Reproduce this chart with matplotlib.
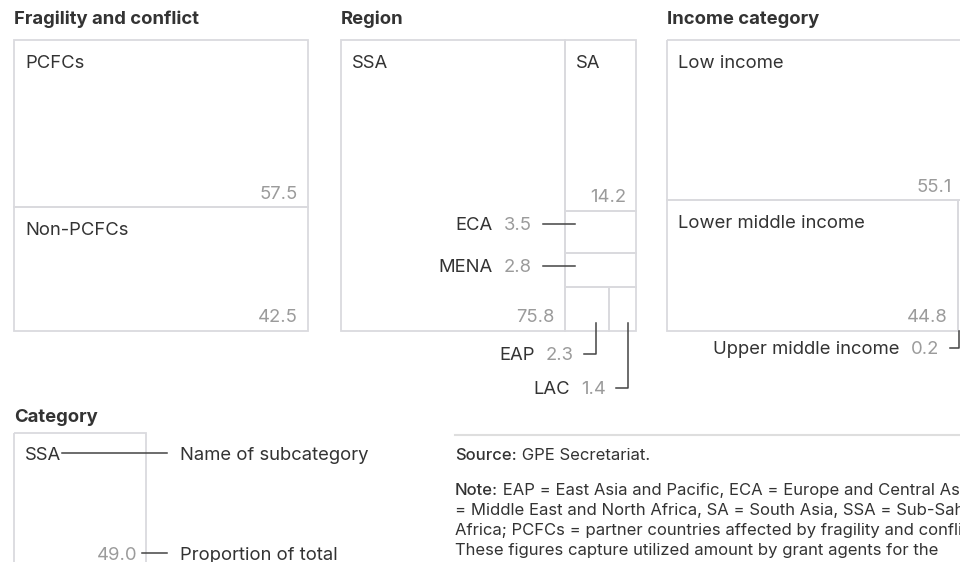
import matplotlib.pyplot as plt
from matplotlib.patches import Rectangle

plt.rcParams['font.family'] = ['Inter', 'DejaVu Sans']

# data (percent of total)
frag_names = ["PCFCs", "Non-PCFCs"]
frag_values = [57.5, 42.5]

region_names = ["SSA", "SA", "ECA", "MENA", "EAP", "LAC"]
region_values = [75.8, 14.2, 3.5, 2.8, 2.3, 1.4]

income_names = ["Low income", "Lower middle income", "Upper middle income"]
income_values = [55.1, 44.8, 0.2]

titles = ["Fragility and conflict", "Region", "Income category"]

source_text = "GPE Secretariat."
note_lines = [
    "EAP = East Asia and Pacific, ECA = Europe and Central Asia, MENA",
    "= Middle East and North Africa, SA = South Asia, SSA = Sub-Saharan",
    "Africa; PCFCs = partner countries affected by fragility and conflict.",
    "These figures capture utilized amount by grant agents for the",
]

EDGE = '#dadade'
DARK = '#333333'
GREY = '#9b9b9b'
LEAD = '#444444'
FS = 13.3
NFS = 12

fig = plt.figure(figsize=(9.6, 5.62), dpi=100)
ax = fig.add_axes([0, 0, 1, 1])
ax.set_xlim(0, 960)
ax.set_ylim(562, 0)
ax.axis('off')

panel_x = [14, 341, 667]
PY, PW, PH = 40, 295, 291


def cell(x, y, w, h, name=None, value=None):
    ax.add_patch(Rectangle((x, y), w, h, fill=False, ec=EDGE, lw=1.3))
    if name:
        ax.text(x + 11, y + 27.5, name, fontsize=FS, color=DARK)
    if value is not None:
        ax.text(x + w - 10, y + h - 8.5, f"{value:.1f}", fontsize=FS,
                color=GREY, ha='right')


def side_label(xr, yb, name, value):
    # grey value right-aligned at xr, dark name to its left
    t = ax.text(xr, yb, f"{value:.1f}", fontsize=FS, color=GREY, ha='right')
    ax.annotate(name, xy=(0, 0), xycoords=t, xytext=(-11, 0),
                textcoords='offset pixels', ha='right', va='bottom',
                fontsize=FS, color=DARK)


for x, t in zip(panel_x, titles):
    ax.text(x, 24, t, fontsize=FS, fontweight='bold', color=DARK)

# fragility: stacked vertically
x0 = panel_x[0]
y = PY
tot = sum(frag_values)
for n, v in zip(frag_names, frag_values):
    h = PH * v / tot
    cell(x0, y, PW - 1, h, n, v)
    y += h

# region: SSA column, others stacked on the right
x0 = panel_x[1]
tot = sum(region_values)
ssa_w = PW * region_values[0] / tot
cell(x0, PY, ssa_w, PH, region_names[0], region_values[0])
cx = x0 + ssa_w
cw = PW - ssa_w
rest = tot - region_values[0]
y = PY
h = PH * region_values[1] / rest
cell(cx, y, cw, h, region_names[1], region_values[1])
y += h
for n, v in zip(region_names[2:4], region_values[2:4]):
    h = PH * v / rest
    cell(cx, y, cw, h)
    ly = y + 13
    ax.plot([cx - 22, cx + 10], [ly, ly], color=LEAD, lw=1.1)
    side_label(cx - 33, ly + 6.5, n, v)
    y += h
h = PY + PH - y
row = sum(region_values[4:])
xx = cx
for i, (n, v) in enumerate(zip(region_names[4:], region_values[4:])):
    w = cw * v / row
    cell(xx, y, w, h)
    ax_x = xx + 0.7 * w
    ly = 354 + 34 * i
    ax.plot([ax_x - 12, ax_x, ax_x], [ly, ly, PY + PH - 8], color=LEAD, lw=1.1)
    side_label(ax_x - 22, ly + 6.5, n, v)
    xx += w

# income: low income on top, a row below
x0 = panel_x[2]
tot = sum(income_values)
h = PH * income_values[0] / tot
cell(x0, PY, PW, h, income_names[0], income_values[0])
y = PY + h
h2 = PH - h
row = sum(income_values[1:])
w_small = max(PW * income_values[2] / row, 4)
w_big = min(PW - w_small, 960 - x0 - 2)
cell(x0, y, w_big, h2, income_names[1], income_values[1])
cell(x0 + w_big, y, w_small, h2)
ax_x = x0 + w_big + 1
ly = PY + PH + 17
ax.plot([ax_x - 9, ax_x, ax_x], [ly, ly, PY + PH], color=LEAD, lw=1.1)
side_label(ax_x - 20, ly + 6.5, income_names[2], income_values[2])

# key explaining the labels
ax.text(14, 422, "Category", fontsize=FS, fontweight='bold', color=DARK)
ax.add_patch(Rectangle((14, 433), 132, 200, fill=False, ec=EDGE, lw=1.3))
ax.text(25, 459.5, "SSA", fontsize=FS, color=DARK)
ax.plot([62, 167], [453, 453], color=LEAD, lw=1.1)
ax.text(180, 459.5, "Name of subcategory", fontsize=FS, color=DARK)
ax.text(137, 559.5, "49.0", fontsize=FS, color=GREY, ha='right')
ax.plot([142, 167], [553, 553], color=LEAD, lw=1.1)
ax.text(180, 559.5, "Proportion of total", fontsize=FS, color=DARK)

# source and notes
ax.plot([455, 960], [435, 435], color='#dedede', lw=1.5)
s = ax.text(455, 460, "Source:", fontsize=NFS, color=DARK, fontweight='medium')
ax.annotate(" " + source_text, xy=(1, 0), xycoords=s, fontsize=NFS,
            color=DARK, va='bottom')
n = ax.text(455, 495, "Note:", fontsize=NFS, color=DARK, fontweight='medium')
ax.annotate(" " + note_lines[0], xy=(1, 0), xycoords=n, fontsize=NFS,
            color=DARK, va='bottom', annotation_clip=False)
for i, line in enumerate(note_lines[1:]):
    ax.text(455, 515 + 20 * i, line, fontsize=NFS, color=DARK)

fig.savefig("out.png", dpi=100)
